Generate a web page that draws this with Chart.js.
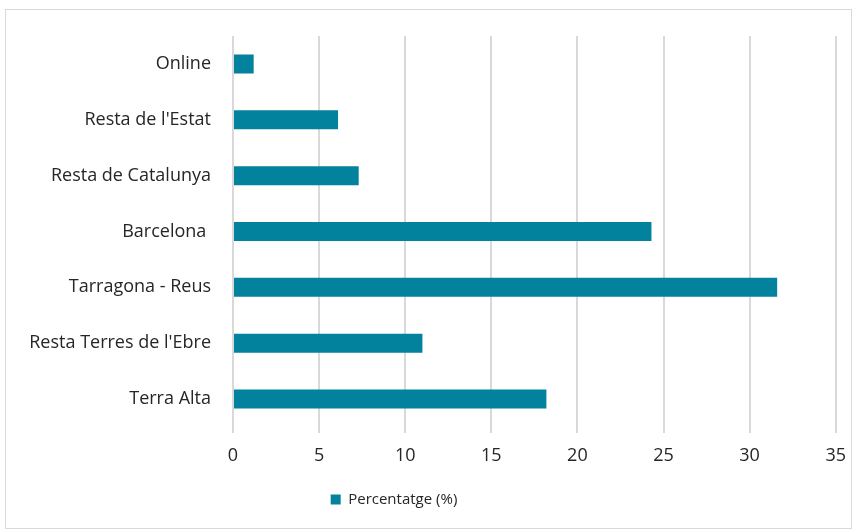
<!DOCTYPE html>
<html>
<head>
<meta charset="utf-8">
<script src="https://cdn.jsdelivr.net/npm/chart.js@4"></script>
<style>
  body { margin: 0; background: #fff; }
  #wrap { position: relative; width: 858px; height: 531px; }
  #frame { position: absolute; left: 5px; top: 9px; width: 845px; height: 518px; border: 1px solid #d9d9d9; }
  canvas { position: absolute; left: 0; top: 0; }
</style>
</head>
<body>
<div id="wrap">
  <div id="frame"></div>
  <canvas id="chartOrigen" width="858" height="531"></canvas>
</div>
<script>
const categories = ['Online', "Resta de l'Estat", 'Resta de Catalunya', 'Barcelona ', 'Tarragona - Reus', "Resta Terres de l'Ebre", 'Terra Alta'];
const percentatge = [1.2, 6.1, 7.3, 24.3, 31.6, 11.0, 18.2];
const xTicks = [0, 5, 10, 15, 20, 25, 30, 35];

// mou la llegenda una mica a l'esquerra, com a l'original
const moureLlegenda = {
  id: 'moureLlegenda',
  afterLayout: chart => {
    chart.legend.left -= 34;
    chart.legend.right -= 34;
  }
};

const ctx = document.getElementById('chartOrigen').getContext('2d');

new Chart(ctx, {
  type: 'bar',
  data: {
    labels: categories,
    datasets: [{
      label: 'Percentatge (%)',
      data: percentatge,
      backgroundColor: '#02829d',
      borderColor: '#02829d',
      borderWidth: 0,
      categoryPercentage: 1,
      barPercentage: 0.34
    }]
  },
  options: {
    indexAxis: 'y',
    responsive: false,
    animation: false,
    layout: { padding: { top: 36, right: 12, left: 10, bottom: 14 } },
    plugins: {
      legend: {
        position: 'bottom',
        labels: {
          color: '#262626',
          font: { family: 'Open Sans', size: 15 },
          boxWidth: 10,
          boxHeight: 10,
          padding: 22
        }
      },
      tooltip: { enabled: false }
    },
    scales: {
      x: {
        min: 0,
        max: 35,
        afterBuildTicks: scale => { scale.ticks = xTicks.map(v => ({ value: v })); },
        afterFit: scale => { scale.height = 43; },
        grid: { color: '#d9d9d9', lineWidth: 2, drawTicks: true, tickLength: 6 },
        border: { display: false },
        ticks: { color: '#262626', font: { family: 'Open Sans', size: 18 }, padding: 12 }
      },
      y: {
        afterFit: scale => { scale.width = 223; },
        grid: { display: false },
        border: { display: false },
        ticks: { color: '#262626', font: { family: 'Open Sans', size: 18 }, padding: 14 }
      }
    }
  },
  plugins: [moureLlegenda]
});
</script>
</body>
</html>
